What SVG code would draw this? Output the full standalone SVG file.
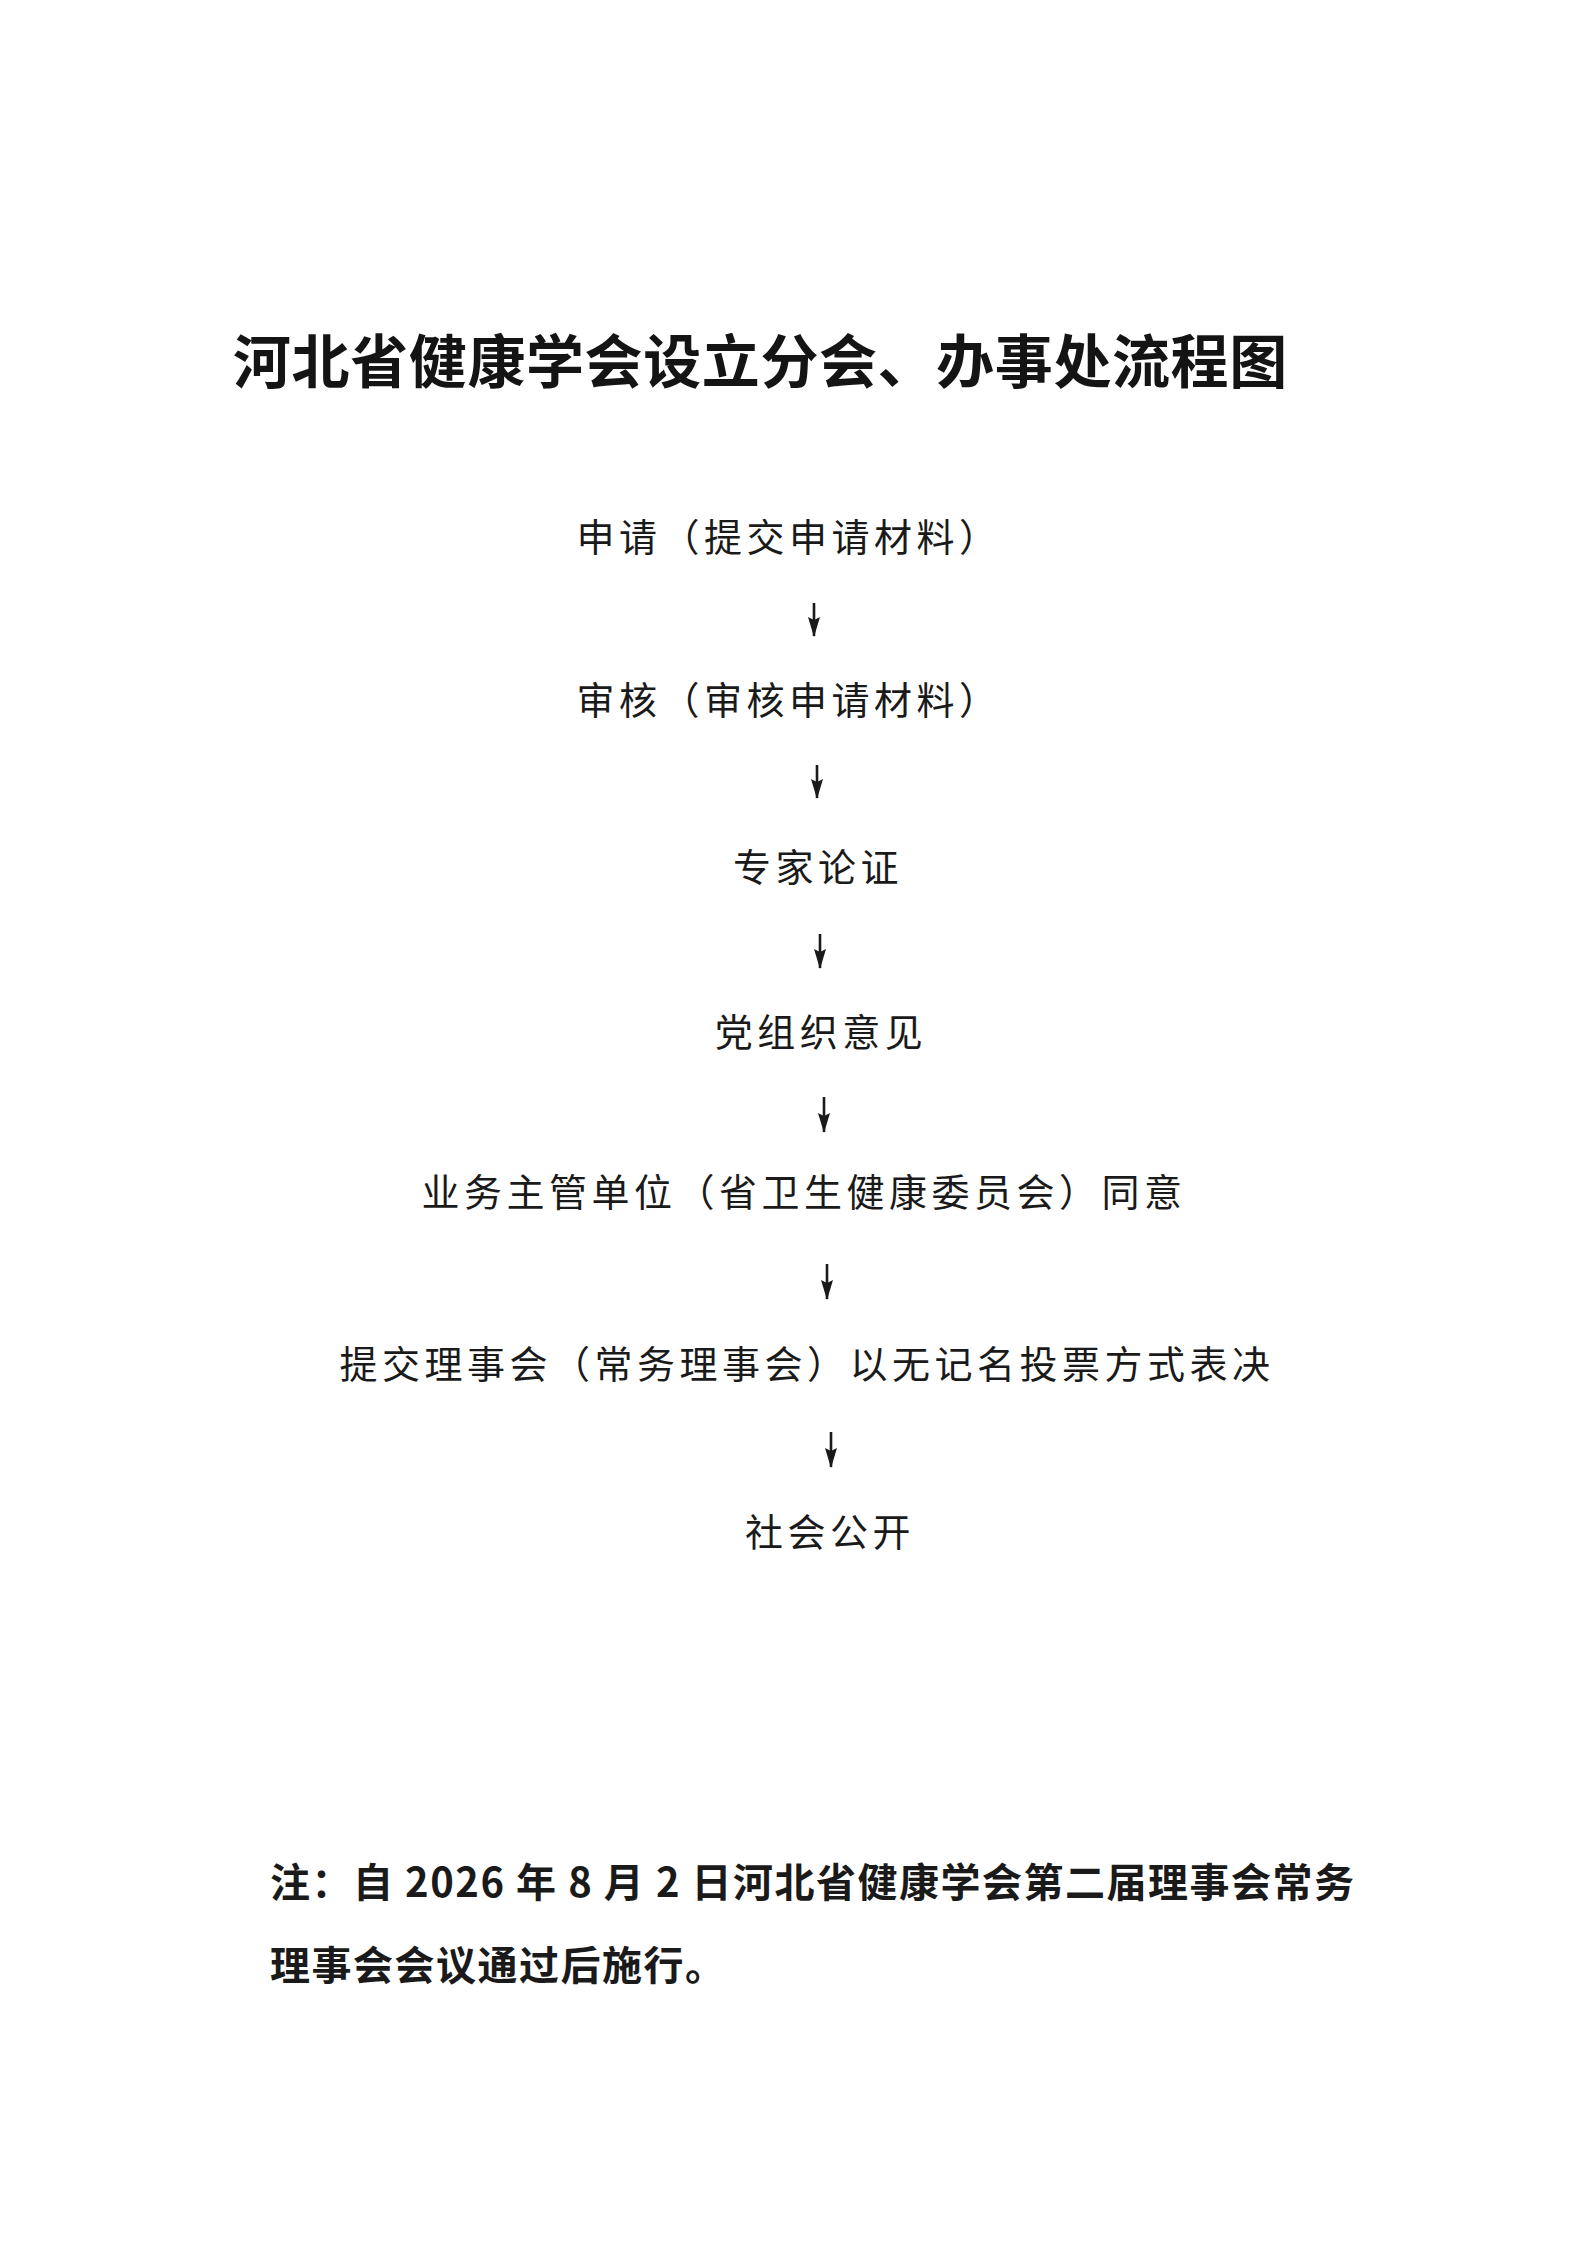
<svg xmlns="http://www.w3.org/2000/svg" width="1589" height="2245" viewBox="0 0 1589 2245">
<defs>
<marker id="ah" viewBox="0 0 20 12" refX="19" refY="6" markerWidth="20" markerHeight="12" markerUnits="userSpaceOnUse" orient="auto">
<path d="M0,0 L20,6 L0,12 L3,6 Z" fill="#1a1a1a"/>
</marker>
<style>
.title{font-family:"Noto Sans CJK SC","Noto Sans",sans-serif;font-weight:bold;font-size:58px;letter-spacing:0.6px;fill:#141414}
.step{font-family:"Noto Sans CJK SC","Noto Sans",sans-serif;font-weight:normal;font-size:38px;letter-spacing:4.5px;fill:#1a1a1a;text-anchor:middle}
.note{font-family:"Noto Sans CJK SC","Noto Sans",sans-serif;font-weight:bold;font-size:40px;letter-spacing:1.5px;fill:#1a1a1a}
.conn line{stroke:#1a1a1a;stroke-width:2.6;marker-end:url(#ah)}
</style>
</defs>
<rect width="1589" height="2245" fill="#ffffff"/>
<text class="title" x="233" y="383">河北省健康学会设立分会、办事处流程图</text>
<g id="n1"><text class="step" x="789" y="551">申请（提交申请材料）</text></g>
<g id="n2"><text class="step" x="789" y="714">审核（审核申请材料）</text></g>
<g id="n3"><text class="step" x="818" y="881">专家论证</text></g>
<g id="n4"><text class="step" x="821" y="1046">党组织意见</text></g>
<g id="n5"><text class="step" x="804" y="1206">业务主管单位（省卫生健康委员会）同意</text></g>
<g id="n6"><text class="step" x="807" y="1378">提交理事会（常务理事会）以无记名投票方式表决</text></g>
<g id="n7"><text class="step" x="830" y="1546">社会公开</text></g>
<g id="connectors" class="conn">
<line x1="814" y1="603" x2="814" y2="636"/>
<line x1="817" y1="765" x2="817" y2="798"/>
<line x1="820" y1="934" x2="820" y2="968"/>
<line x1="824" y1="1097" x2="824" y2="1132"/>
<line x1="827" y1="1264" x2="827" y2="1299"/>
<line x1="831" y1="1432" x2="831" y2="1467"/>
</g>
<g id="note">
<text class="note" x="270" y="1897">注：自 2026 年 8 月 2 日河北省健康学会第二届理事会常务</text>
<text class="note" x="270" y="1980">理事会会议通过后施行。</text>
</g>
</svg>
